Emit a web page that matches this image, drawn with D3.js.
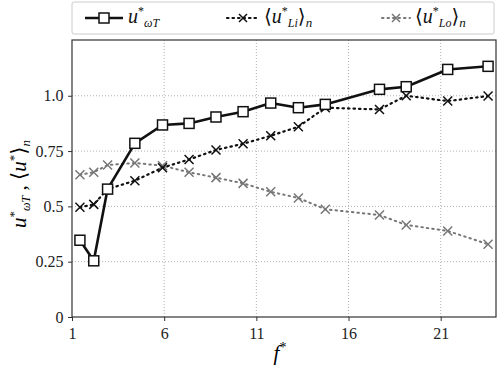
<!DOCTYPE html>
<html>
<head>
<meta charset="utf-8">
<script src="https://cdn.jsdelivr.net/npm/d3@7"></script>
<style>
  body { margin: 0; background: #fff; font-family: "Liberation Serif", "Times New Roman", Times, "DejaVu Serif", serif; }
</style>
</head>
<body>
<script>
'use strict';
// values
let fT = [1.43, 2.18, 2.93, 4.41, 5.91, 7.35, 8.81, 10.28, 11.78, 13.28, 14.74, 17.68, 19.13, 21.38, 23.57];
let uOmegaT = [0.347, 0.254, 0.578, 0.785, 0.868, 0.875, 0.904, 0.928, 0.967, 0.946, 0.961, 1.029, 1.041, 1.119, 1.133];
let uLi = [0.496, 0.509, 0.578, 0.616, 0.675, 0.712, 0.755, 0.783, 0.819, 0.860, 0.946, 0.938, 1.0, 0.976, 0.999];
let uLo = [0.643, 0.654, 0.687, 0.696, 0.684, 0.654, 0.630, 0.604, 0.566, 0.538, 0.487, 0.461, 0.416, 0.389, 0.329];
let xTicks = [1, 6, 11, 16, 21];
let yTicks = [0, 0.25, 0.5, 0.75, 1.0];
let yTickLabels = ["0", "0.25", "0.5", "0.75", "1.0"];

let FONT = 'Liberation Serif, Times New Roman, Times, DejaVu Serif, serif';
let W = 498, H = 368;
let plot = { left: 72, right: 496, top: 40, bottom: 317 };

let svg = d3.select('body').append('svg')
  .attr('width', W)
  .attr('height', H)
  .attr('font-family', FONT);

let x = d3.scaleLinear().domain([1, 24]).range([plot.left, plot.right]);
let y = d3.scaleLinear().domain([0, 1.252]).range([plot.bottom, plot.top]);

// grid
svg.append('g').selectAll('line').data(xTicks.slice(1)).enter().append('line')
  .attr('x1', (d) => x(d)).attr('x2', (d) => x(d))
  .attr('y1', plot.top).attr('y2', plot.bottom)
  .attr('stroke', '#b0b0b0').attr('stroke-width', 1).attr('stroke-dasharray', '1,2');
svg.append('g').selectAll('line').data(yTicks.slice(1)).enter().append('line')
  .attr('x1', plot.left).attr('x2', plot.right)
  .attr('y1', (d) => y(d)).attr('y2', (d) => y(d))
  .attr('stroke', '#b0b0b0').attr('stroke-width', 1).attr('stroke-dasharray', '1,2');

// axes
let xAxis = d3.axisBottom(x).tickValues(xTicks).tickSize(4).tickFormat(d3.format('d'));
let gx = svg.append('g').attr('transform', 'translate(0,' + plot.bottom + ')').call(xAxis);
let yAxis = d3.axisLeft(y).tickValues(yTicks).tickSize(4).tickFormat((d, i) => yTickLabels[i]);
let gy = svg.append('g').attr('transform', 'translate(' + plot.left + ',0)').call(yAxis);
[gx, gy].forEach((g) => {
  g.attr('font-family', FONT).attr('font-size', 16);
  g.select('.domain').remove();
  g.selectAll('line').attr('stroke', '#333');
  g.selectAll('text').attr('fill', '#222');
});
gx.selectAll('text').attr('dy', '0.95em');
gy.selectAll('text').attr('dx', '-0.1em');

// frame
svg.append('rect')
  .attr('x', plot.left).attr('y', plot.top)
  .attr('width', plot.right - plot.left).attr('height', plot.bottom - plot.top)
  .attr('fill', 'none').attr('stroke', '#333').attr('stroke-width', 1.2);

function crossPath(cx, cy, s) {
  return 'M' + (cx - s) + ',' + (cy - s) + 'L' + (cx + s) + ',' + (cy + s) +
    'M' + (cx - s) + ',' + (cy + s) + 'L' + (cx + s) + ',' + (cy - s);
}

let series = [
  { vals: uLo, color: '#777', dash: '1.5,4', width: 2, marker: 'x' },
  { vals: uLi, color: '#111', dash: '1.5,4', width: 2.2, marker: 'x' },
  { vals: uOmegaT, color: '#111', dash: null, width: 2.6, marker: 'sq' }
];

series.forEach((s) => {
  let pts = fT.map((f, i) => [f, s.vals[i]]);
  let line = d3.line().x((d) => x(d[0])).y((d) => y(d[1]));
  svg.append('path')
    .datum(pts)
    .attr('fill', 'none')
    .attr('stroke', s.color)
    .attr('stroke-width', s.width)
    .attr('stroke-linecap', s.dash ? 'round' : 'butt')
    .attr('stroke-linejoin', 'round')
    .attr('stroke-dasharray', s.dash)
    .attr('d', line);
  if (s.marker === 'x') {
    svg.append('g').selectAll('path').data(pts).enter().append('path')
      .attr('d', (d) => crossPath(x(d[0]), y(d[1]), 4.5))
      .attr('stroke', s.color).attr('stroke-width', 1.5).attr('fill', 'none');
  } else {
    svg.append('g').selectAll('rect').data(pts).enter().append('rect')
      .attr('x', (d) => x(d[0]) - 5).attr('y', (d) => y(d[1]) - 5)
      .attr('width', 10).attr('height', 10)
      .attr('fill', '#fff').attr('stroke', '#111').attr('stroke-width', 1.5);
  }
});

// labels
svg.append('text')
  .attr('x', 280).attr('y', 360)
  .attr('text-anchor', 'middle')
  .attr('font-size', 21).attr('font-style', 'italic')
  .html('f<tspan dy="-8" font-size="14" font-style="normal">*</tspan>');

let yl = svg.append('text')
  .attr('transform', 'translate(26,184)rotate(-90)')
  .attr('text-anchor', 'middle')
  .attr('font-size', 21);
yl.html('<tspan font-style="italic">u</tspan><tspan dy="-8" font-size="13">*</tspan>' +
  '<tspan dy="12" font-size="12" font-style="italic">ωT</tspan>' +
  '<tspan dy="-4"> , ⟨</tspan><tspan font-style="italic">u</tspan><tspan dy="-8" font-size="13">*</tspan>' +
  '<tspan dy="8">⟩</tspan><tspan dy="4" font-size="13" font-style="italic">n</tspan>');

// legend
let lg = svg.append('g');
lg.append('rect')
  .attr('x', 72).attr('y', 2).attr('width', 422).attr('height', 32).attr('rx', 2)
  .attr('fill', '#fff').attr('stroke', '#ccc').attr('stroke-width', 1);

let legendItems = [
  { x0: 85, x1: 123, text: ['u', 'ωT', null], s: series[2] },
  { x0: 227, x1: 259, text: ['u', 'Li', 'n'], s: series[1] },
  { x0: 382, x1: 410, text: ['u', 'Lo', 'n'], s: series[0] }
];
legendItems.forEach((it) => {
  let cy = 18, cx = (it.x0 + it.x1) / 2;
  lg.append('line')
    .attr('x1', it.x0).attr('x2', it.x1).attr('y1', cy).attr('y2', cy)
    .attr('stroke', it.s.color).attr('stroke-width', it.s.width)
    .attr('stroke-linecap', it.s.dash ? 'round' : 'butt')
    .attr('stroke-dasharray', it.s.dash);
  if (it.s.marker === 'x') {
    lg.append('path').attr('d', crossPath(cx, cy, 4))
      .attr('stroke', it.s.color).attr('stroke-width', 1.5).attr('fill', 'none');
  } else {
    lg.append('rect').attr('x', cx - 5).attr('y', cy - 5).attr('width', 10).attr('height', 10)
      .attr('fill', '#fff').attr('stroke', '#111').attr('stroke-width', 1.5);
  }
  let t = lg.append('text').attr('x', it.x1 + 5).attr('y', 23).attr('font-size', 20).attr('fill', '#111');
  if (it.text[2]) {
    t.html('⟨<tspan font-style="italic">u</tspan><tspan dy="-8" font-size="12">*</tspan>' +
      '<tspan dy="12" font-size="12" font-style="italic">' + it.text[1] + '</tspan>' +
      '<tspan dy="-4">⟩</tspan><tspan dy="4" font-size="13" font-style="italic">n</tspan>');
  } else {
    t.html('<tspan font-style="italic">u</tspan><tspan dy="-8" font-size="12">*</tspan>' +
      '<tspan dy="12" font-size="12" font-style="italic">' + it.text[1] + '</tspan>');
  }
});
</script>
</body>
</html>
